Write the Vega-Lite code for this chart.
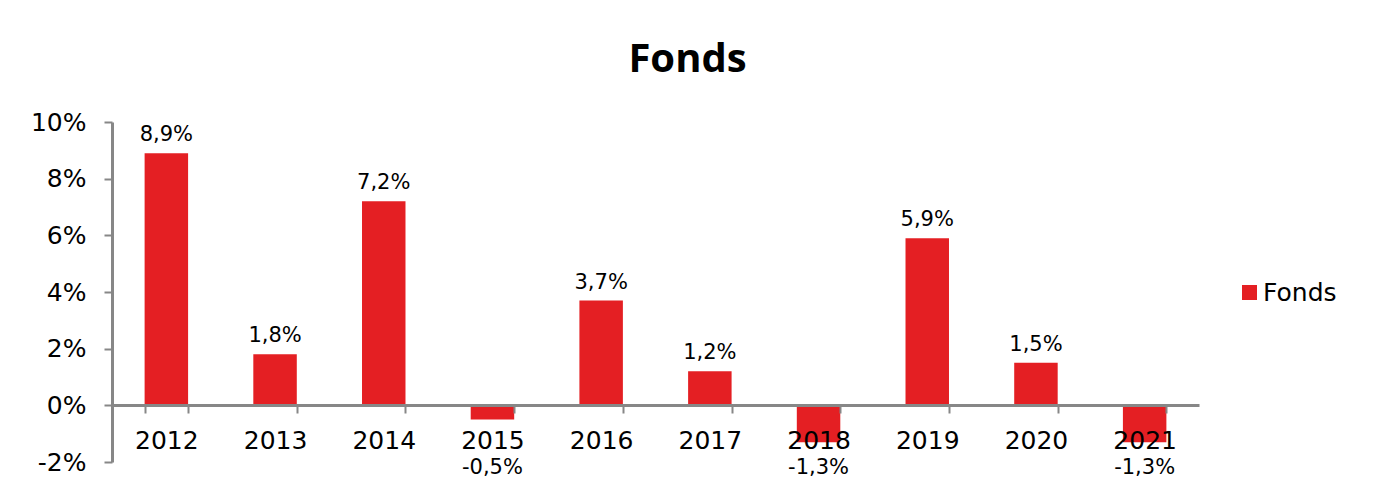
{
  "$schema": "https://vega.github.io/schema/vega-lite/v6.json",
  "autosize": "none",
  "width": 1087,
  "height": 340,
  "padding": {"left": 112, "top": 122, "right": 176, "bottom": 26},
  "background": "white",
  "title": {
    "text": "Fonds",
    "font": "Open Sans",
    "fontWeight": "bold",
    "fontSize": 40,
    "color": "black",
    "anchor": "middle",
    "frame": "group",
    "dx": 32,
    "offset": 30
  },
  "data": {
    "values": [
      {"year": "2012", "value": 0.089},
      {"year": "2013", "value": 0.018},
      {"year": "2014", "value": 0.072},
      {"year": "2015", "value": -0.005},
      {"year": "2016", "value": 0.037},
      {"year": "2017", "value": 0.012},
      {"year": "2018", "value": -0.013},
      {"year": "2019", "value": 0.059},
      {"year": "2020", "value": 0.015},
      {"year": "2021", "value": -0.013}
    ]
  },
  "encoding": {
    "x": {
      "field": "year",
      "type": "nominal",
      "sort": null,
      "scale": {"paddingInner": 0.6, "paddingOuter": 0.3},
      "axis": {
        "title": null,
        "labelAngle": 0,
        "offset": -57,
        "zindex": 1,
        "tickBand": "extent",
        "tickSize": 8,
        "tickWidth": 2,
        "tickColor": "#878787",
        "domainColor": "#878787",
        "domainWidth": 3,
        "labelFont": "DejaVu Sans",
        "labelFontSize": 25,
        "labelColor": "black",
        "labelPadding": 15
      }
    }
  },
  "layer": [
    {
      "mark": {"type": "bar"},
      "encoding": {
        "y": {
          "field": "value",
          "type": "quantitative",
          "scale": {"domain": [-0.02, 0.1], "nice": false},
          "axis": {
            "title": null,
            "grid": false,
            "values": [-0.02, 0, 0.02, 0.04, 0.06, 0.08, 0.1],
            "format": ".0%",
            "tickSize": 8,
            "tickWidth": 2,
            "tickColor": "#878787",
            "domainColor": "#878787",
            "domainWidth": 3,
            "labelFont": "DejaVu Sans",
            "labelFontSize": 25,
            "labelColor": "black",
            "labelPadding": 18
          }
        },
        "color": {
          "datum": "Fonds",
          "scale": {"range": ["#E41F23"]},
          "legend": {
            "title": null,
            "orient": "none",
            "legendX": 1125,
            "legendY": 158,
            "symbolType": "square",
            "symbolSize": 225,
            "symbolStrokeWidth": 0,
            "symbolOpacity": 1,
            "labelFont": "DejaVu Sans",
            "labelFontSize": 25,
            "labelColor": "black",
            "labelOffset": 1
          }
        }
      }
    },
    {
      "transform": [{"filter": "datum.value >= 0"}],
      "mark": {"type": "text", "font": "DejaVu Sans", "fontSize": 21, "color": "black", "baseline": "alphabetic", "dy": -12},
      "encoding": {
        "y": {"field": "value", "type": "quantitative"},
        "text": {"field": "value", "type": "quantitative", "format": ".1%"}
      }
    },
    {
      "transform": [{"filter": "datum.value < 0"}],
      "mark": {"type": "text", "font": "DejaVu Sans", "fontSize": 21, "color": "black", "baseline": "middle", "dy": 6},
      "encoding": {
        "y": {"datum": -0.02, "type": "quantitative"},
        "text": {"field": "value", "type": "quantitative", "format": ".1%"}
      }
    }
  ],
  "config": {
    "view": {"stroke": null},
    "locale": {"number": {"decimal": ",", "thousands": ".", "grouping": [3], "currency": ["", " €"], "minus": "-"}}
  }
}
